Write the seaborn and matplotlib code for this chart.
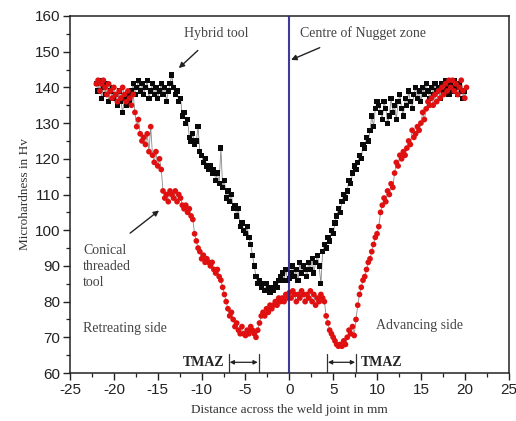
import matplotlib
matplotlib.use("Agg")
import matplotlib.pyplot as plt
from matplotlib.ticker import MultipleLocator
import seaborn as sns
import pandas as pd

# Hybrid tool hardness profile (distance in mm, hardness in Hv)
hybrid_x = [
    -22.0, -21.8, -21.6, -21.4, -21.2, -21.0, -20.8, -20.6, -20.4, -20.2,
    -20.0, -19.8, -19.6, -19.4, -19.2, -19.0, -18.8, -18.6, -18.4, -18.2,
    -18.0, -17.8, -17.6, -17.4, -17.2, -17.0, -16.8, -16.6, -16.4, -16.2,
    -16.0, -15.8, -15.6, -15.4, -15.2, -15.0, -14.8, -14.6, -14.4, -14.2,
    -14.0, -13.8, -13.6, -13.4, -13.2, -13.0, -12.8, -12.6, -12.4, -12.2,
    -12.0, -11.8, -11.6, -11.4, -11.2, -11.0, -10.8, -10.6, -10.4, -10.2,
    -10.0, -9.8, -9.6, -9.4, -9.2, -9.0, -8.8, -8.6, -8.4, -8.2,
    -8.0, -7.8, -7.6, -7.4, -7.2, -7.0, -6.8, -6.6, -6.4, -6.2,
    -6.0, -5.8, -5.6, -5.4, -5.2, -5.0, -4.8, -4.6, -4.4, -4.2,
    -4.0, -3.8, -3.6, -3.4, -3.2, -3.0, -2.8, -2.6, -2.4, -2.2,
    -2.0, -1.8, -1.6, -1.4, -1.2, -1.0, -0.8, -0.6, -0.4, -0.2,
    0.0, 0.2, 0.4, 0.6, 0.8, 1.0, 1.2, 1.4, 1.6, 1.8,
    2.0, 2.2, 2.4, 2.6, 2.8, 3.0, 3.2, 3.4, 3.6, 3.8,
    4.0, 4.2, 4.4, 4.6, 4.8, 5.0, 5.2, 5.4, 5.6, 5.8,
    6.0, 6.2, 6.4, 6.6, 6.8, 7.0, 7.2, 7.4, 7.6, 7.8,
    8.0, 8.2, 8.4, 8.6, 8.8, 9.0, 9.2, 9.4, 9.6, 9.8,
    10.0, 10.2, 10.4, 10.6, 10.8, 11.0, 11.2, 11.4, 11.6, 11.8,
    12.0, 12.2, 12.4, 12.6, 12.8, 13.0, 13.2, 13.4, 13.6, 13.8,
    14.0, 14.2, 14.4, 14.6, 14.8, 15.0, 15.2, 15.4, 15.6, 15.8,
    16.0, 16.2, 16.4, 16.6, 16.8, 17.0, 17.2, 17.4, 17.6, 17.8,
    18.0, 18.2, 18.4, 18.6, 18.8, 19.0, 19.2, 19.4, 19.6, 19.8,
    20.0,
]
hybrid_hv = [
    141, 139, 142, 137, 140, 138, 141, 136, 139, 140,
    137, 138, 135, 139, 136, 133, 137, 135, 138, 136,
    139, 141, 138, 140, 142, 139, 141, 138, 140, 142,
    137, 139, 141, 138, 140, 137, 139, 141, 138, 140,
    136, 139, 141, 143.5, 140, 138, 139, 136, 137, 132,
    133, 130, 131, 126, 125, 127, 124, 125, 129, 122,
    121, 119, 120, 118, 117, 118, 116, 117, 114, 116,
    113, 123, 112, 114, 109, 111, 108, 110, 106, 107,
    104, 106, 101, 102, 100, 99, 101, 98, 96, 93,
    90, 87, 85, 86, 84, 85, 83, 85, 84, 82.5,
    84, 83, 85, 84, 86, 87, 88, 86, 89, 86,
    86.5, 88, 90, 87, 89, 86, 91, 88, 90, 89,
    87, 91, 89, 92, 88, 91, 93, 90, 85, 94,
    96, 95, 98, 97, 100, 99, 102, 104, 106, 105,
    108, 110, 109, 111, 114, 113, 116, 118, 117, 119,
    121, 120, 124, 123, 126, 125, 128, 132, 129, 134,
    136, 135, 133, 131, 136, 134, 130, 132, 137, 133,
    135, 131, 136, 138, 134, 132, 137, 135, 139, 136,
    134, 138, 140, 137, 139, 136, 140, 138, 141, 139,
    137, 140, 138, 141, 139, 140, 137, 141, 139, 142,
    140, 138, 141, 139, 142, 140, 138, 141, 139, 137,
    139,
]

# Conical threaded tool hardness profile
conical_x = [
    -22.0, -21.8, -21.6, -21.4, -21.2, -21.0, -20.8, -20.6, -20.4, -20.2,
    -20.0, -19.8, -19.6, -19.4, -19.2, -19.0, -18.8, -18.6, -18.4, -18.2,
    -18.0, -17.8, -17.6, -17.4, -17.2, -17.0, -16.8, -16.6, -16.4, -16.2,
    -16.0, -15.8, -15.6, -15.4, -15.2, -15.0, -14.8, -14.6, -14.4, -14.2,
    -14.0, -13.8, -13.6, -13.4, -13.2, -13.0, -12.8, -12.6, -12.4, -12.2,
    -12.0, -11.8, -11.6, -11.4, -11.2, -11.0, -10.8, -10.6, -10.4, -10.2,
    -10.0, -9.8, -9.6, -9.4, -9.2, -9.0, -8.8, -8.6, -8.4, -8.2,
    -8.0, -7.8, -7.6, -7.4, -7.2, -7.0, -6.8, -6.6, -6.4, -6.2,
    -6.0, -5.8, -5.6, -5.4, -5.2, -5.0, -4.8, -4.6, -4.4, -4.2,
    -4.0, -3.8, -3.6, -3.4, -3.2, -3.0, -2.8, -2.6, -2.4, -2.2,
    -2.0, -1.8, -1.6, -1.4, -1.2, -1.0, -0.8, -0.6, -0.4, -0.2,
    0.0, 0.2, 0.4, 0.6, 0.8, 1.0, 1.2, 1.4, 1.6, 1.8,
    2.0, 2.2, 2.4, 2.6, 2.8, 3.0, 3.2, 3.4, 3.6, 3.8,
    4.0, 4.2, 4.4, 4.6, 4.8, 5.0, 5.2, 5.4, 5.6, 5.8,
    6.0, 6.2, 6.4, 6.6, 6.8, 7.0, 7.2, 7.4, 7.6, 7.8,
    8.0, 8.2, 8.4, 8.6, 8.8, 9.0, 9.2, 9.4, 9.6, 9.8,
    10.0, 10.2, 10.4, 10.6, 10.8, 11.0, 11.2, 11.4, 11.6, 11.8,
    12.0, 12.2, 12.4, 12.6, 12.8, 13.0, 13.2, 13.4, 13.6, 13.8,
    14.0, 14.2, 14.4, 14.6, 14.8, 15.0, 15.2, 15.4, 15.6, 15.8,
    16.0, 16.2, 16.4, 16.6, 16.8, 17.0, 17.2, 17.4, 17.6, 17.8,
    18.0, 18.2, 18.4, 18.6, 18.8, 19.0, 19.2, 19.4, 19.6, 19.8,
    20.0, 20.2,
]
conical_hv = [
    141, 142, 139, 141, 142, 140, 138, 141, 139, 137,
    140, 138, 136, 139, 137, 140, 138, 136, 139, 137,
    135, 138, 133, 129, 131, 127, 125, 126, 124, 127,
    122, 129, 121, 119, 122, 118, 120, 117, 111, 109,
    110, 108, 111, 110, 109, 111, 108, 110, 109, 107,
    106, 107, 105, 106, 104, 103, 99, 97, 95, 94,
    92, 93, 91, 92, 91, 90, 91, 89, 88, 89,
    87, 86, 84, 82, 80, 78, 76, 77, 75, 73,
    74, 72, 71, 73, 71, 70.5, 72, 71, 73, 72,
    71, 70, 72, 74, 76, 77, 76, 78, 77, 79,
    78, 79, 80, 79, 81, 80, 81, 80, 82, 81,
    82.5, 81, 83, 82, 80, 82, 81, 83, 82, 80,
    82, 81, 83, 80, 82, 79, 81, 80, 82, 81,
    80, 76, 74, 72, 71, 70, 69, 68, 67.5, 68,
    67.5, 69, 68, 70, 72, 71, 73, 70.5, 75, 79,
    82, 84, 86, 87, 89, 91, 92, 94, 96, 98,
    99, 101, 105, 107, 109, 108, 111, 110, 113, 112,
    116, 119, 118, 121, 120, 122, 121, 123, 125, 124,
    128, 126, 127, 129, 128, 130, 133, 131, 134, 136,
    135, 137, 135, 138, 136, 139, 137, 140, 138, 141,
    139, 142, 140, 142, 139, 141, 138, 140, 142, 139,
    137, 140,
]

x_ticks = [-25, -20, -15, -10, -5, 0, 5, 10, 15, 20, 25]
y_ticks = [60, 70, 80, 90, 100, 110, 120, 130, 140, 150, 160]

hybrid = pd.DataFrame({"x": hybrid_x, "hv": hybrid_hv})
conical = pd.DataFrame({"x": conical_x, "hv": conical_hv})

sns.set_theme(style="ticks")
plt.rcParams["font.family"] = ["Liberation Sans", "DejaVu Sans"]
plt.rcParams["axes.unicode_minus"] = False

fig = plt.figure(figsize=(5.16, 4.21), dpi=100)
ax = fig.add_axes([0.1357, 0.114, 0.850, 0.848])

line_kw = dict(color="#8a8a8a", linewidth=0.6, sort=False, estimator=None, ax=ax, zorder=2)
sns.lineplot(data=hybrid, x="x", y="hv", **line_kw)
sns.lineplot(data=conical, x="x", y="hv", **line_kw)
sns.scatterplot(data=hybrid, x="x", y="hv", marker="s", s=14, color="#0a0a0a",
                edgecolor="none", ax=ax, zorder=3)
sns.scatterplot(data=conical, x="x", y="hv", marker="o", s=17, color="#e01010",
                edgecolor="none", ax=ax, zorder=3)

# Weld centre line
ax.axvline(0, color="#28288a", linewidth=1.5, zorder=4, alpha=0.9)

ax.set_xlim(-25, 25)
ax.set_ylim(60, 160)
ax.set_xticks(x_ticks)
ax.set_yticks(y_ticks)
ax.xaxis.set_minor_locator(MultipleLocator(2.5))
ax.yaxis.set_minor_locator(MultipleLocator(5))
ax.tick_params(axis="both", which="major", direction="out", length=5, width=1.0,
               labelsize=11, colors="#222222", pad=2)
ax.tick_params(axis="both", which="minor", direction="out", length=3, width=0.9,
               colors="#222222")
for sp in ax.spines.values():
    sp.set_visible(True)
    sp.set_linewidth(1.1)
    sp.set_color("#222222")

serif = ["Liberation Serif", "DejaVu Serif"]
ax.set_xlabel("Distance across the weld joint in mm", family=serif, fontsize=9.5,
              color="#333333", labelpad=5)
ax.set_ylabel("Microhardness in Hv", family=serif, fontsize=9.5,
              color="#333333", labelpad=3)

note = dict(family=serif, fontsize=10, color="#444444")
arrow = dict(arrowstyle="-|>", color="#222222", lw=1.0, mutation_scale=8)

ax.annotate("Hybrid tool", xy=(-12.6, 145.4), xytext=(-8.3, 155.2),
            ha="center", va="center", arrowprops=dict(arrow, shrinkA=8, shrinkB=0), **note)
ax.annotate("Centre of Nugget zone", xy=(0.2, 147.7), xytext=(1.2, 155.2),
            ha="left", va="center", arrowprops=dict(arrow, shrinkA=8, shrinkB=0,
                                                    relpos=(0.3, 0.0)), **note)
ax.text(-23.5, 89.7, "Conical\nthreaded\ntool", ha="left", va="center",
        linespacing=1.3, **note)
ax.annotate("", xy=(-14.6, 106.0), xytext=(-18.4, 98.7), arrowprops=dict(arrow))
ax.text(-23.5, 72.6, "Retreating side", ha="left", va="center", **note)
ax.text(9.9, 73.2, "Advancing side", ha="left", va="center", **note)

# TMAZ extents
tmaz_kw = dict(family=serif, fontsize=10, color="#222222", weight="bold", va="center")
dbl = dict(arrowstyle="<|-|>", color="#222222", lw=0.9, mutation_scale=6,
           shrinkA=0, shrinkB=0)
for x0, x1 in [(-6.9, -3.5), (4.3, 7.6)]:
    ax.plot([x0, x0], [60.3, 65.2], color="#333333", lw=0.9)
    ax.plot([x1, x1], [60.3, 65.2], color="#333333", lw=0.9)
    ax.annotate("", xy=(x1 - 0.1, 63.0), xytext=(x0 + 0.1, 63.0), arrowprops=dbl)
ax.text(-7.4, 63.0, "TMAZ", ha="right", **tmaz_kw)
ax.text(8.1, 63.0, "TMAZ", ha="left", **tmaz_kw)

fig.savefig("out.png", dpi=100)
